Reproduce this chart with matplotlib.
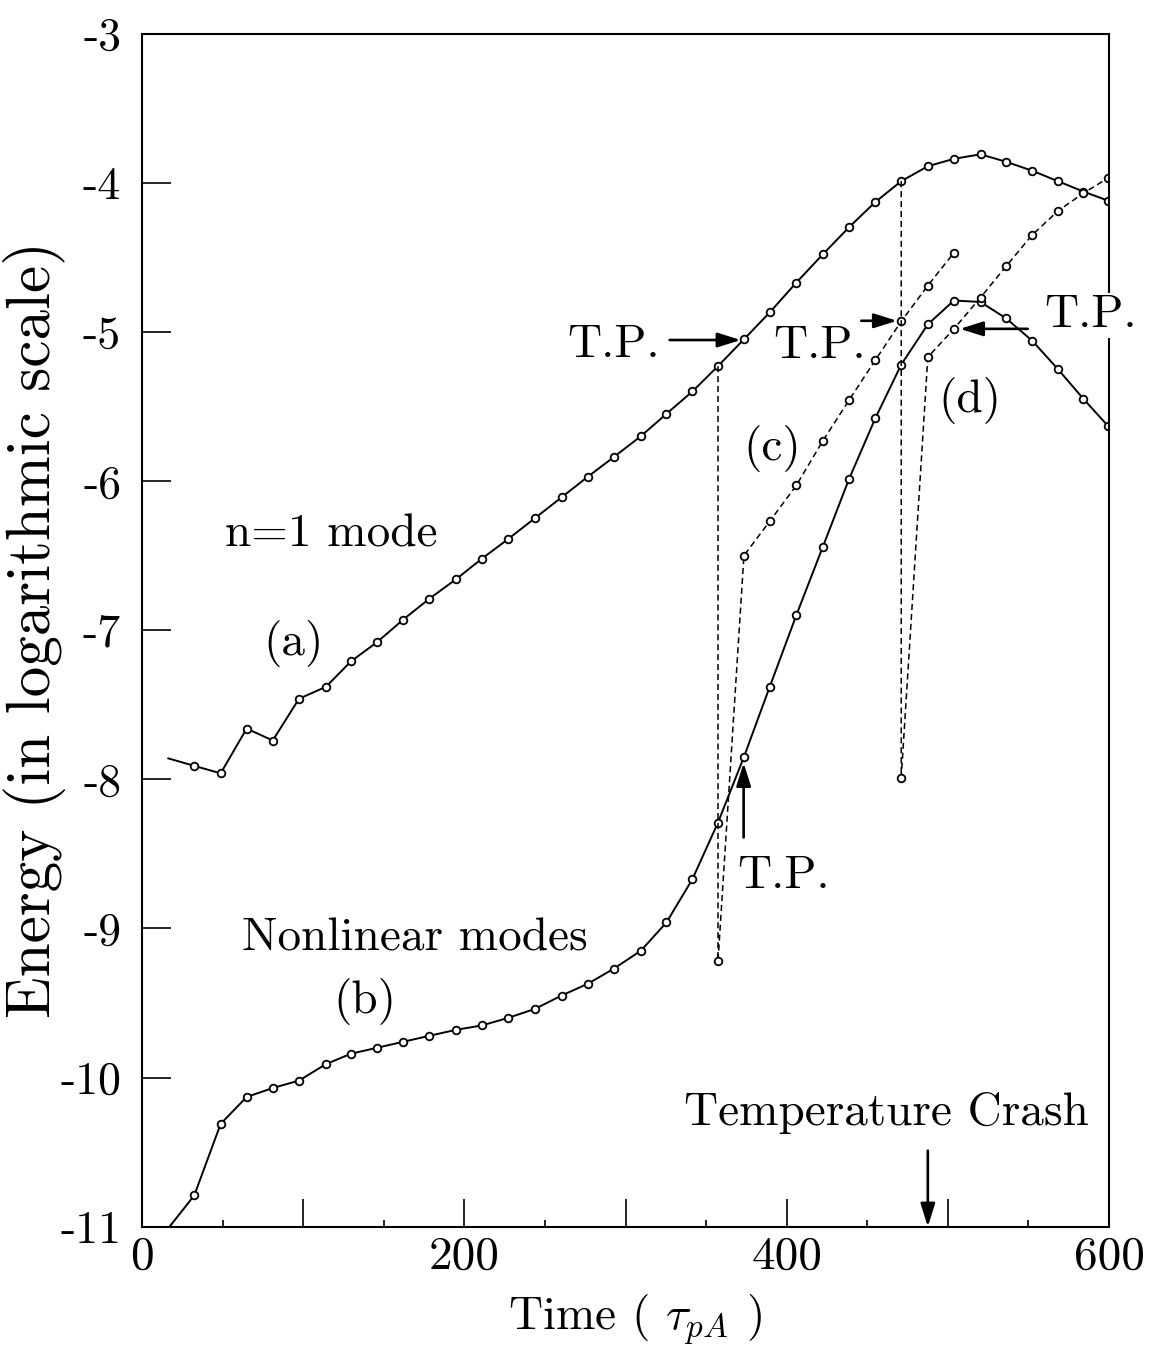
import matplotlib
matplotlib.use("Agg")
import matplotlib.pyplot as plt

# Computer Modern look, hyphen minus like the original scan
plt.rcParams["font.family"] = ["cmr10", "DejaVu Serif"]
plt.rcParams["mathtext.fontset"] = "cm"
plt.rcParams["axes.unicode_minus"] = False

# shared time grid (tau_pA)
times = [16.3, 32.4, 48.8, 64.9, 81.1, 97.4, 114.1, 129.6, 145.9, 162.0,
         178.2, 194.7, 211.0, 227.1, 243.7, 260.3, 276.8, 292.7, 309.5, 325.4,
         341.5, 357.4, 373.5, 389.5, 406.0, 422.5, 438.6, 455.0, 471.1, 487.6,
         503.8, 520.3, 536.2, 552.4, 568.3, 584.2, 599.3]

# (a) n=1 mode, log energy
energy_a = [-7.86, -7.91, -7.96, -7.66, -7.74, -7.46, -7.38, -7.21, -7.08, -6.93,
            -6.79, -6.66, -6.52, -6.39, -6.25, -6.11, -5.97, -5.84, -5.70, -5.55,
            -5.40, -5.23, -5.05, -4.87, -4.67, -4.48, -4.30, -4.13, -3.99, -3.89,
            -3.84, -3.81, -3.86, -3.92, -3.99, -4.06, -4.12]

# (b) nonlinear modes
energy_b = [-11.01, -10.79, -10.31, -10.13, -10.07, -10.02, -9.91, -9.84, -9.80, -9.76,
            -9.72, -9.68, -9.65, -9.60, -9.54, -9.45, -9.37, -9.27, -9.15, -8.96,
            -8.67, -8.29, -7.85, -7.38, -6.90, -6.44, -5.99, -5.58, -5.22, -4.95,
            -4.79, -4.80, -4.91, -5.06, -5.25, -5.45, -5.63]

# (c) restart at t=357
times_c = [357.4, 357.4, 373.5, 389.5, 406.0, 422.5, 438.6, 455.0, 471.1, 487.6, 503.8]
energy_c = [-5.23, -9.22, -6.50, -6.27, -6.03, -5.73, -5.46, -5.19, -4.93, -4.69, -4.47]

# (d) restart at t=471
times_d = [471.1, 471.1, 487.6, 503.8, 520.3, 536.2, 552.4, 568.3, 584.2, 599.3]
energy_d = [-3.99, -7.99, -5.17, -4.98, -4.77, -4.56, -4.35, -4.19, -4.07, -3.97]

yticks = [-3, -4, -5, -6, -7, -8, -9, -10, -11]
ytick_labels = ["-3", "-4", "-5", "-6", "-7", "-8", "-9", "-10", "-11"]
xticks = [0, 100, 200, 300, 400, 500, 600]
xtick_labels = ["0", "", "200", "", "400", "", "600"]
xticks_minor = [50, 150, 250, 350, 450, 550]

fig = plt.figure(figsize=(11.53, 13.46), dpi=100)
ax = fig.add_axes([0.1232, 0.0886, 0.8386, 0.8865])

mk = dict(marker="o", ms=5.5, mfc="white", mec="black", mew=1.3)

ax.plot(times, energy_a, color="black", lw=1.4, markevery=(1, 1), **mk)
ax.plot(times, energy_b, color="black", lw=1.4, markevery=(1, 1), **mk)
ax.plot(times_c, energy_c, color="black", lw=1.1, ls=(0, (4, 2.5)), markevery=(1, 1), **mk)
ax.plot(times_d, energy_d, color="black", lw=1.1, ls=(0, (4, 2.5)), markevery=(1, 1), **mk)

ax.set_xlim(0, 600)
ax.set_ylim(-11, -3)

ax.set_xticks(xticks)
ax.set_xticklabels(xtick_labels)
ax.set_xticks(xticks_minor, minor=True)
ax.set_yticks(yticks)
ax.set_yticklabels(ytick_labels)
ax.tick_params(axis="x", which="major", direction="in", length=20, width=1.2,
               labelsize=34, pad=7, top=False)
ax.tick_params(axis="x", which="minor", direction="in", length=5, width=1.2, top=False)
ax.tick_params(axis="y", which="major", direction="in", length=21, width=1.2,
               labelsize=33, pad=15, right=False)
for sp in ax.spines.values():
    sp.set_linewidth(1.5)

fs = 34
ax.text(117.6, -6.44, "n=1 mode", ha="center", va="baseline", fontsize=fs)
ax.text(94.3, -7.09, "(a)", ha="center", va="center", fontsize=fs)
ax.text(169.1, -9.15, "Nonlinear modes", ha="center", va="baseline", fontsize=fs)
ax.text(138.3, -9.49, "(b)", ha="center", va="center", fontsize=fs)
ax.text(391.3, -5.78, "(c)", ha="center", va="center", fontsize=fs)
ax.text(513.5, -5.46, "(d)", ha="center", va="center", fontsize=fs)
ax.text(462, -10.32, "Temperature Crash", ha="center", va="baseline", fontsize=fs)

ax.text(321.2, -5.17, "T.P.", ha="right", va="baseline", fontsize=fs)
ax.text(391.5, -5.175, "T.P.", ha="left", va="baseline", fontsize=fs)
ax.text(560, -4.97, "T.P.", ha="left", va="baseline", fontsize=fs,
        bbox=dict(facecolor="white", edgecolor="none", pad=1), zorder=5)
ax.text(369.6, -8.73, "T.P.", ha="left", va="baseline", fontsize=fs)

arrow = dict(arrowstyle="-|>,head_length=0.7,head_width=0.22", mutation_scale=20,
             color="black", lw=1.9, shrinkA=0, shrinkB=0)
ax.annotate("", xy=(371.5, -5.055), xytext=(327.4, -5.055), arrowprops=arrow)
ax.annotate("", xy=(468.5, -4.926), xytext=(446.3, -4.926), arrowprops=arrow)
ax.annotate("", xy=(507.5, -4.98), xytext=(549.6, -4.98), arrowprops=arrow)
ax.annotate("", xy=(373.3, -7.89), xytext=(373.3, -8.39), arrowprops=arrow)
ax.annotate("", xy=(487.6, -11.0), xytext=(487.6, -10.49), arrowprops=arrow)

fig.text(0.030, 0.532, "Energy (in logarithmic scale)", rotation=90,
         ha="center", va="center", fontsize=44)
fig.text(0.551, 0.0119, r"Time ( $\tau_{pA}$ )", ha="center", va="baseline", fontsize=34)

fig.savefig("out.png", dpi=100)
